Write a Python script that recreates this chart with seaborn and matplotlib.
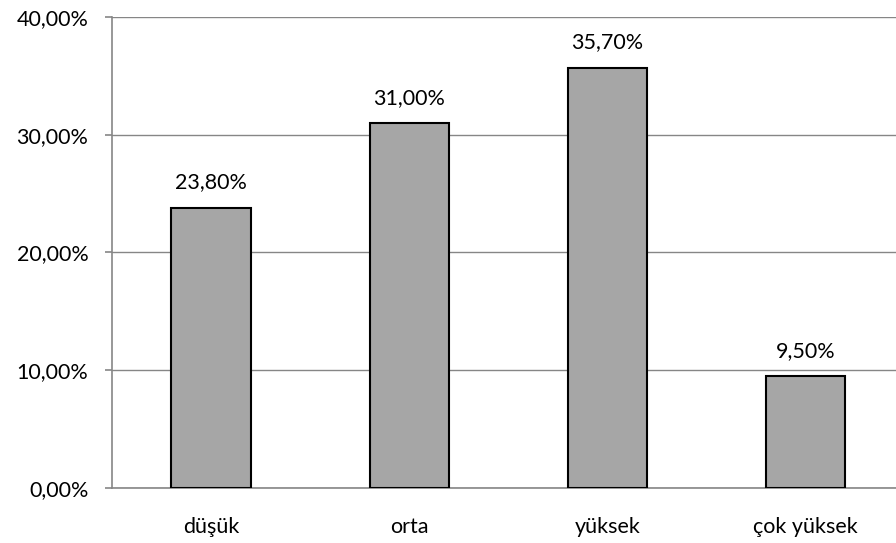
import matplotlib
matplotlib.use("Agg")
import matplotlib.pyplot as plt
import seaborn as sns
import pandas as pd
from matplotlib.ticker import FuncFormatter, FixedLocator

categories = ["düşük", "orta", "yüksek", "çok yüksek"]
values = [23.8, 31.0, 35.7, 9.5]
y_ticks = [0, 10, 20, 30, 40]

df = pd.DataFrame({"kategori": categories, "deger": values})

sns.set_theme(style="white")
plt.rcParams["font.family"] = ["Lato", "DejaVu Sans"]

fig = plt.figure(figsize=(8.96, 5.43), dpi=100)
ax = fig.add_axes([0.125, 0.1013, 0.885, 0.8674])

sns.barplot(data=df, x="kategori", y="deger", color="#A6A6A6", width=0.4,
            edgecolor="black", linewidth=1.5, saturation=1, ax=ax, zorder=3)

fmt = lambda v: f"{v:.2f}".replace(".", ",") + "%"
ax.bar_label(ax.containers[0], labels=[fmt(v) for v in values], padding=11,
             fontsize=15.5, color="black")

ax.set_xlim(-0.5, 3.5)
ax.set_ylim(0, 40)
ax.yaxis.set_major_locator(FixedLocator(y_ticks))
ax.yaxis.set_major_formatter(FuncFormatter(lambda v, p: fmt(v)))
ax.grid(axis="y", color="#868686", linewidth=1.0, zorder=0)
ax.set_axisbelow(True)

for s in ["top", "right"]:
    ax.spines[s].set_visible(False)
for s in ["left", "bottom"]:
    ax.spines[s].set_color("#868686")
    ax.spines[s].set_linewidth(1.2)

ax.set_xlabel("")
ax.set_ylabel("")
ax.tick_params(axis="x", which="major", length=0, pad=21, labelsize=15.5, colors="black")
ax.set_xticks([-0.5, 0.5, 1.5, 2.5], minor=True)
ax.tick_params(axis="x", which="minor", length=5, width=1.2, color="#868686", direction="out")
ax.tick_params(axis="y", length=5, width=1.2, color="#868686", direction="out",
               labelsize=15.5, labelcolor="black", pad=12, left=True)

fig.savefig("out.png", dpi=100)
